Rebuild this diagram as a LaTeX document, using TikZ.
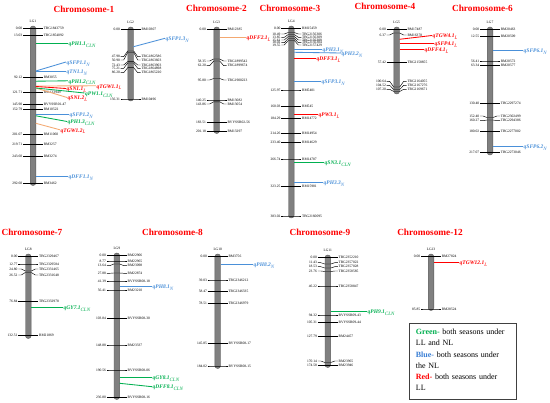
\documentclass[tikz,border=0pt]{standalone}
\usepackage{fontspec}
\setmainfont{Liberation Serif}
\definecolor{qgreen}{HTML}{00B050}
\definecolor{qblue}{HTML}{4A90D9}
\definecolor{qred}{HTML}{FF0000}
\definecolor{qorange}{HTML}{F4A870}
\definecolor{titlered}{HTML}{FF0000}
\definecolor{chrgray}{HTML}{808080}
\definecolor{chrdark}{HTML}{5A5A5A}
\definecolor{lblue}{HTML}{3A7FD5}
\definecolor{legframe}{HTML}{404040}
\newcommand{\qsub}[1]{\raisebox{-1.8pt}{\fontsize{5}{5}\selectfont\mdseries\itshape #1}}
\newcommand{\mkchr}[5]{%
  \draw[chrfill] (#2-2.8,#3) rectangle (#2+2.8,#4);
  \node[lgtxt] (#1) at (#2,#3-4.8) {#5};
}
\newcommand{\mkmark}[6]{%
  \node[numtxt] (#1n) at (#2-10,#4) {#5};
  \node[nametxt] (#1m) at (#2+10,#4) {#6};
  \draw[tick] (#1n.east) -- (#2-7,#4) -- (#2-3,#3) -- (#2+3,#3) -- (#2+7,#4) -- (#1m.west);
}
\newcommand{\mkqtl}[9]{%
  \coordinate (#1c) at (#4,#5);
  \node[qlab, text=#3] (#1) at (#6,#7) {#8\qsub{#9}};
  \draw[qline, draw=#2] (#1c) -- (#1.mid west);
}
\begin{document}
\begin{tikzpicture}[x=1pt,y=-1pt,
  chrfill/.style={fill=chrgray, draw=chrdark, line width=0.4pt, rounded corners=2.7pt},
  tick/.style={draw=black, line width=0.45pt},
  numtxt/.style={font=\fontsize{3.6}{4}\selectfont, inner sep=0.6pt, anchor=east},
  nametxt/.style={font=\fontsize{3.6}{4}\selectfont, inner sep=0.6pt, anchor=west},
  lgtxt/.style={font=\fontsize{3.6}{4}\selectfont, inner sep=0pt},
  qlab/.style={font=\fontsize{5.5}{6}\selectfont\bfseries\itshape, inner sep=0.5pt, anchor=mid west},
  qline/.style={line width=0.85pt},
  ctitle/.style={font=\fontsize{9.3}{11}\selectfont\bfseries, text=titlered, inner sep=0pt}]
\useasboundingbox (0,0) rectangle (550,403);
\fill[white] (0,0) rectangle (550,403);

% titles
\node[ctitle] (t1) at (84,9) {Chromosome-1};
\node[ctitle] (t2) at (216.5,8) {Chromosome-2};
\node[ctitle] (t3) at (290,8) {Chromosome-3};
\node[ctitle] (t4) at (385,6) {Chromosome-4};
\node[ctitle] (t6) at (482.5,8) {Chromosome-6};
\node[ctitle] (t7) at (32,232) {Chromosome-7};
\node[ctitle] (t8) at (172.5,232) {Chromosome-8};
\node[ctitle] (t9) at (320,232) {Chromosome-9};
\node[ctitle] (t12) at (430,232) {Chromosome-12};

% ---------- LG1
\mkchr{L1}{33}{26}{185.5}{LG1}
\mkmark{m1a}{33}{28.3}{28.3}{0.00}{TBG1843759}
\mkmark{m1b}{33}{35.3}{35.3}{13.03}{TBG1854092}
\mkmark{m1c}{33}{77.3}{77.3}{92.12}{RM3055}
\mkmark{m1d}{33}{92.7}{92.7}{121.71}{RS1133949}
\mkmark{m1e}{33}{104.7}{104.7}{145.90}{BVYSSR01-47}
\mkmark{m1f}{33}{109.3}{109.3}{152.79}{RM10522}
\mkmark{m1g}{33}{134.3}{134.3}{201.07}{RM11060}
\mkmark{m1h}{33}{144.3}{144.3}{219.71}{RM3257}
\mkmark{m1i}{33}{156.7}{156.7}{243.60}{RM3274}
\mkmark{m1j}{33}{183.3}{183.3}{292.60}{RM3462}
\mkqtl{q11}{qgreen}{qgreen}{35.8}{43}{68}{43}{qPH1.1}{CLN}
\mkqtl{q12}{qblue}{qblue}{35.8}{71}{66}{62}{qSFP1.1}{N}
\mkqtl{q13}{qblue}{qblue}{35.8}{71}{66}{71}{qTN1.1}{N}
\mkqtl{q14}{qgreen}{qgreen}{35.8}{81.2}{68}{80.8}{qPH1.2}{CLN}
\mkqtl{q15}{qorange}{qred}{35.8}{86}{96}{85.8}{qTGW1.1}{L}
\mkqtl{q16}{qred}{qred}{35.8}{86.5}{66}{88.5}{qSN1.1}{L}
\mkqtl{q17}{qorange}{qred}{35.8}{88}{67}{97.5}{qSN1.2}{L}
\mkqtl{q18}{qgreen}{qgreen}{35.8}{88}{84.5}{93}{qPW1.1}{CLN}
\mkqtl{q19}{qblue}{qblue}{35.8}{114.7}{69}{114.7}{qSFP1.2}{N}
\mkqtl{q1a}{qgreen}{qgreen}{35.8}{115.8}{67}{121.5}{qPH1.3}{CLN}
\mkqtl{q1b}{qorange}{qred}{35.8}{123.3}{60}{129.8}{qTGW1.2}{L}
\mkqtl{q1c}{qblue}{qblue}{35.8}{176}{68}{176}{qDFF1.1}{N}

% ---------- LG2
\mkchr{L2}{130.7}{27}{101}{LG2}
\mkmark{m2a}{130.7}{29.3}{29.3}{0.00}{RM10307}
\mkmark{m2b}{130.7}{51}{56.7}{47.98}{TBG1862586}
\mkmark{m2c}{130.7}{52.5}{60}{50.90}{TBG1863603}
\mkmark{m2d}{130.7}{61.6}{65}{72.43}{TBG1863903}
\mkmark{m2e}{130.7}{63}{68.3}{75.21}{TBG1864898}
\mkmark{m2f}{130.7}{67.7}{72.7}{86.20}{TBG1865220}
\mkmark{m2g}{130.7}{99}{99}{156.31}{RM10496}
\mkqtl{q1d}{qblue}{qblue}{133.5}{46.7}{165}{38.3}{qSFP1.3}{N}

% ---------- LG3
\mkchr{L3}{216.7}{27}{133.5}{LG3}
\mkmark{m3a}{216.7}{29.3}{29.3}{0.00}{RM12385}
\mkmark{m3b}{216.7}{59}{61}{58.35}{TBG1899542}
\mkmark{m3c}{216.7}{61}{65.7}{62.20}{TBG1899674}
\mkmark{m3d}{216.7}{78.5}{80}{95.80}{TBG1900223}
\mkmark{m3e}{216.7}{100}{100}{140.25}{RM13082}
\mkmark{m3f}{216.7}{101.8}{104}{143.86}{RM13054}
\mkmark{m3g}{216.7}{122.7}{122.7}{183.51}{BVYSSR02-56}
\mkmark{m3h}{216.7}{131.7}{131.7}{201.18}{RM13297}
\mkqtl{q21}{qorange}{qred}{219.5}{37}{246}{37}{qDFF2.1}{L}

% ---------- LG4
\mkchr{L4}{291.3}{26}{218}{LG4}
\mkmark{m4a}{291.3}{28.3}{28.3}{0.00}{RM15459}
\mkmark{m4b}{291.3}{32.5}{34}{10.49}{TBG2156306}
\mkmark{m4c}{291.3}{34.5}{37.3}{13.85}{TBG2156309}
\mkmark{m4d}{291.3}{36.5}{40}{15.61}{TBG2156308}
\mkmark{m4e}{291.3}{38.5}{42.7}{18.02}{TBG2156304}
\mkmark{m4f}{291.3}{40.5}{45}{19.55}{TBG2157429}
\mkmark{m4g}{291.3}{90}{90}{125.97}{RM5401}
\mkmark{m4h}{291.3}{106.7}{106.7}{160.03}{RM545}
\mkmark{m4i}{291.3}{118.7}{118.7}{184.29}{RM14772}
\mkmark{m4j}{291.3}{133.3}{133.3}{214.26}{RM14954}
\mkmark{m4k}{291.3}{142.7}{142.7}{233.40}{RM14629}
\mkmark{m4l}{291.3}{159}{159}{266.74}{RM14787}
\mkmark{m4m}{291.3}{186.7}{186.7}{323.25}{RM15981}
\mkmark{m4n}{291.3}{216}{216}{383.02}{TBG2160095}
\mkqtl{q31}{qblue}{qblue}{294.1}{49.3}{322}{49.3}{qPH3.1}{N}
\mkqtl{q32}{qblue}{qblue}{294.1}{52.3}{341}{53}{qPH3.2}{N}
\mkqtl{q33}{qred}{qred}{294.1}{58.3}{316}{58.3}{qDFF3.1}{L}
\mkqtl{q34}{qblue}{qblue}{294.1}{81}{321}{81}{qSFP3.1}{N}
\mkqtl{q35}{qred}{qred}{294.1}{114.3}{318}{114.3}{qPW3.1}{L}
\mkqtl{q36}{qgreen}{qgreen}{294.1}{162.7}{324}{162.7}{qSN3.1}{CLN}
\mkqtl{q37}{qblue}{qblue}{294.1}{182}{323}{182}{qPH3.3}{N}

% ---------- LG5
\mkchr{L5}{396.7}{27}{94}{LG5}
\mkmark{m5a}{396.7}{29.3}{29.3}{0.00}{RM17487}
\mkmark{m5b}{396.7}{33}{35}{6.37}{RM16378}
\mkmark{m5c}{396.7}{62.7}{62.7}{57.42}{TBG2158855}
\mkmark{m5d}{396.7}{87}{81.3}{100.64}{TBG2164055}
\mkmark{m5e}{396.7}{89.5}{85.3}{104.52}{TBG2167276}
\mkmark{m5f}{396.7}{91.5}{89.3}{107.20}{TBG2169671}
\mkqtl{q41}{qred}{qred}{399.5}{39.3}{432}{35.5}{qTGW4.1}{L}
\mkqtl{q42}{qred}{qred}{399.5}{43}{434}{43}{qSFP4.1}{L}
\mkqtl{q43}{qred}{qred}{399.5}{49.3}{424}{49.3}{qDFF4.1}{L}

% ---------- LG7
\mkchr{L7}{490}{27}{155}{LG7}
\mkmark{m7a}{490}{29.3}{29.3}{0.00}{RM20463}
\mkmark{m7b}{490}{36.7}{36.7}{12.55}{RM20509}
\mkmark{m7c}{490}{61}{61}{56.41}{RM20572}
\mkmark{m7d}{490}{65.7}{65.7}{63.34}{RM20577}
\mkmark{m7e}{490}{103.3}{103.3}{130.40}{TBG2297274}
\mkmark{m7f}{490}{117.5}{116}{152.40}{TBG2302499}
\mkmark{m7g}{490}{120}{120.7}{160.27}{TBG2294386}
\mkmark{m7h}{490}{131.7}{131.7}{180.02}{TBG2277002}
\mkmark{m7i}{490}{152.7}{152.7}{217.07}{TBG2273046}
\mkqtl{q61}{qblue}{qblue}{492.8}{50}{523}{50}{qSFP6.1}{N}
\mkqtl{q62}{qblue}{qblue}{492.8}{146}{523}{146}{qSFP6.2}{N}

% ---------- LG8
\mkchr{L8}{28.3}{254}{338.5}{LG8}
\mkmark{m8a}{28.3}{256.7}{256.7}{0.00}{TBG2329467}
\mkmark{m8b}{28.3}{264}{264}{12.77}{TBG2329584}
\mkmark{m8c}{28.3}{271}{269}{24.80}{TBG2331465}
\mkmark{m8d}{28.3}{272.5}{275}{26.52}{TBG2331648}
\mkmark{m8e}{28.3}{301.5}{301.5}{76.84}{TBG2332978}
\mkmark{m8f}{28.3}{335.7}{335.7}{132.51}{RM21869}
\mkqtl{q71}{qgreen}{qgreen}{31.1}{307.7}{63}{307.7}{qGY7.1}{CLN}

% ---------- LG9
\mkchr{L9}{116.8}{253}{399.5}{LG9}
\mkmark{m9a}{116.8}{255.7}{255.7}{0.00}{RM22906}
\mkmark{m9b}{116.8}{261}{261}{8.77}{RM22965}
\mkmark{m9c}{116.8}{264}{265.7}{13.64}{RM23098}
\mkmark{m9d}{116.8}{273}{273.3}{27.88}{RM22874}
\mkmark{m9e}{116.8}{281}{281}{41.39}{BVYSSR08-18}
\mkmark{m9f}{116.8}{290}{290}{56.41}{RM23210}
\mkmark{m9g}{116.8}{318.3}{318.3}{103.84}{BVYSSR08-30}
\mkmark{m9h}{116.8}{345}{345}{148.88}{RM23337}
\mkmark{m9i}{116.8}{370}{370}{190.56}{BVYSSR08-06}
\mkmark{m9j}{116.8}{397.7}{397.7}{236.80}{BVYSSR08-16}
\mkqtl{q81}{qblue}{qblue}{119.6}{286}{152}{286}{qPH8.1}{N}
\mkqtl{q82}{qgreen}{qgreen}{119.6}{377.7}{152}{377.7}{qGY8.1}{CLN}
\mkqtl{q83}{qgreen}{qgreen}{119.6}{383.3}{152}{386.7}{qDFF8.1}{CLN}

% ---------- LG10
\mkchr{L10}{217.7}{254}{368.5}{LG10}
\mkmark{mAa}{217.7}{256.7}{256.7}{0.00}{RM3756}
\mkmark{mAb}{217.7}{280}{280}{39.03}{TBG2346212}
\mkmark{mAc}{217.7}{291.7}{291.7}{58.47}{TBG2346335}
\mkmark{mAd}{217.7}{303.3}{303.3}{78.51}{TBG2346979}
\mkmark{mAe}{217.7}{343.3}{343.3}{145.85}{BVYSSR08-17}
\mkmark{mAf}{217.7}{366}{366}{184.02}{BVYSSR08-15}
\mkqtl{q84}{qblue}{qblue}{220.5}{264.3}{253}{264.3}{qPH8.2}{N}

% ---------- LG11
\mkchr{L11}{327.8}{255}{367.5}{LG11}
\mkmark{mBa}{327.8}{257.3}{257.3}{0.00}{TBG2352210}
\mkmark{mBb}{327.8}{264}{262.7}{11.43}{TBG2357022}
\mkmark{mBc}{327.8}{268}{266.7}{18.53}{TBG2357028}
\mkmark{mBd}{327.8}{271.5}{271}{23.76}{TBG2358585}
\mkmark{mBe}{327.8}{286}{286}{46.22}{TBG2358847}
\mkmark{mBf}{327.8}{315}{315}{94.32}{BVYSSR09-43}
\mkmark{mBg}{327.8}{322.7}{322.7}{105.31}{BVYSSR09-44}
\mkmark{mBh}{327.8}{336.7}{336.7}{127.79}{RM24457}
\mkmark{mBi}{327.8}{362.5}{361}{170.14}{RM23965}
\mkmark{mBj}{327.8}{365.7}{365.7}{174.58}{RM23946}
\mkqtl{q91}{qgreen}{qgreen}{330.6}{311}{367}{311}{qPH9.1}{CLN}

% ---------- LG13
\mkchr{L13}{431}{254}{310.5}{LG13}
\mkmark{mCa}{431}{256.7}{256.7}{0.00}{RM27824}
\mkmark{mCb}{431}{309}{309}{85.85}{RM28524}
\mkqtl{qC1}{qred}{qred}{433.8}{262.3}{459}{262.3}{qTGW12.1}{L}

% ---------- legend
\node[draw=legframe, line width=0.8pt, minimum width=107pt, minimum height=76pt,
      inner sep=0pt, anchor=north west] (leg) at (409,323) {};
\node[anchor=north west, inner sep=0pt, text width=94.3pt, align=left,
      font=\fontsize{8}{11.2}\selectfont] (legtxt) at (415.7,329) {%
\makebox[94.3pt][s]{\textcolor{qgreen}{\textbf{Green-}} both seasons under}\\
LL and NL\\
\makebox[94.3pt][s]{\textcolor{lblue}{\textbf{Blue-}} both seasons under}\\
the NL\\
\makebox[94.3pt][s]{\textcolor{qred}{\textbf{Red-}} both seasons under}\\
LL};
\end{tikzpicture}
\end{document}
